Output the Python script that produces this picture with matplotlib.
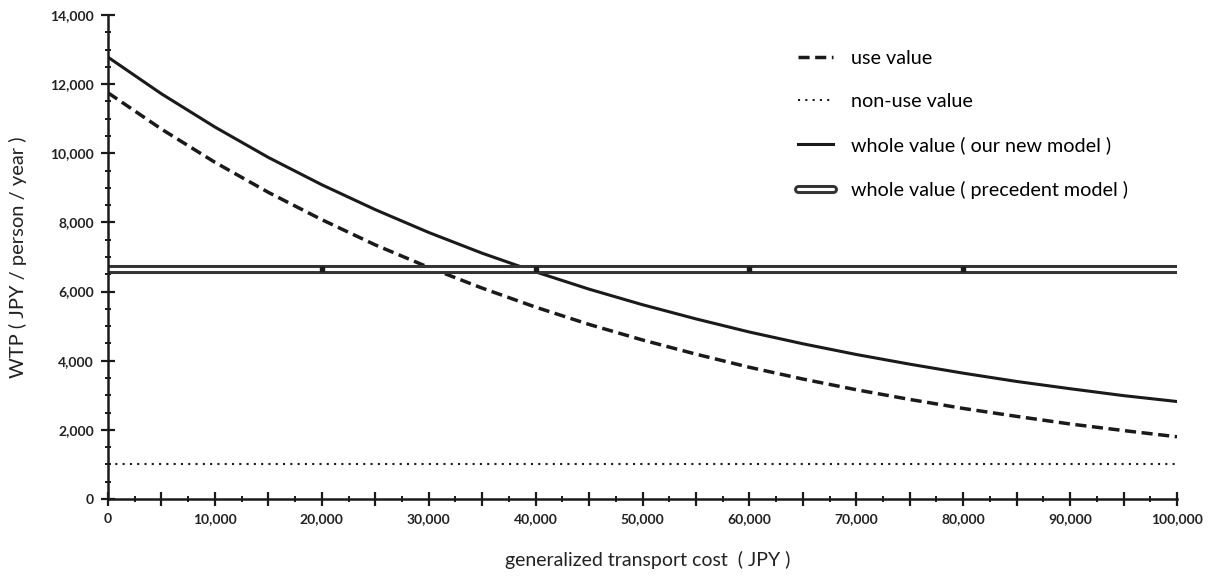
import matplotlib
matplotlib.use('Agg')
import matplotlib.pyplot as plt
import matplotlib.patheffects as pe
from matplotlib.ticker import MultipleLocator, FuncFormatter
import numpy as np

plt.rcParams['font.family'] = ['Lato', 'DejaVu Sans']
#
# Values:
#
cost = [0, 5000, 10000, 15000, 20000, 25000, 30000, 35000, 40000, 45000, 50000,
        55000, 60000, 65000, 70000, 75000, 80000, 85000, 90000, 95000, 100000]
use_value = [11750, 10700, 9740, 8870, 8080, 7350, 6700, 6100, 5550, 5050, 4600,
             4190, 3810, 3470, 3160, 2880, 2620, 2390, 2170, 1980, 1800]
nonuse_value = [1000] * len(cost)
whole_new = [12780, 11720, 10760, 9880, 9090, 8370, 7710, 7110, 6570, 6070, 5620,
             5210, 4830, 4490, 4180, 3900, 3640, 3400, 3190, 2990, 2820]
precedent_cost = [0, 20000, 40000, 60000, 80000, 100000]
precedent_value = [6650] * len(precedent_cost)

ink = '#1a1a1a'

fig = plt.figure(figsize=(12.12, 5.83), dpi=100)
ax = fig.add_axes([108/1212, 1-499/583, (1177-108)/1212, (499-15)/583])

ax.plot(cost, use_value, color=ink, linestyle=(0, (3.2, 1.6)), linewidth=2.5,
        label='use value')
ax.plot(cost, nonuse_value, color=ink, linestyle=(0, (1, 2.5)), linewidth=1.5,
        label='non-use value')
ax.plot(cost, whole_new, color=ink, linestyle='-', linewidth=2.2,
        label='whole value ( our new model )')
ax.plot(precedent_cost, precedent_value, color='white', linewidth=2.2,
        solid_capstyle='round',
        path_effects=[pe.Stroke(linewidth=6.5, foreground='#333333'), pe.Normal()],
        label='whole value ( precedent model )')
# small point marks on the precedent line
ax.plot(precedent_cost[1:-1], precedent_value[1:-1], linestyle='none', marker='s',
        markersize=3, color=ink)

ax.set_xlim(0, 100000)
ax.set_ylim(0, 14000)
ax.spines['top'].set_visible(False)
ax.spines['right'].set_visible(False)
for s in ['left', 'bottom']:
    ax.spines[s].set_linewidth(1.8)
    ax.spines[s].set_color(ink)

ax.xaxis.set_major_locator(MultipleLocator(5000))
ax.xaxis.set_minor_locator(MultipleLocator(2500))
ax.xaxis.set_major_formatter(FuncFormatter(lambda v, p: f'{int(v):,}' if v % 10000 == 0 else ''))
ax.yaxis.set_major_locator(MultipleLocator(2000))
ax.yaxis.set_minor_locator(MultipleLocator(500))
ax.yaxis.set_major_formatter(FuncFormatter(lambda v, p: f'{int(v):,}'))

ax.tick_params(which='major', direction='inout', length=10, width=1.6, color=ink,
               labelsize=10, pad=5)
ax.tick_params(which='minor', direction='inout', length=5, width=1.4, color=ink)
for lab in ax.get_xticklabels() + ax.get_yticklabels():
    lab.set_fontweight('bold')
    lab.set_color('#222222')

ax.set_xlabel('generalized transport cost  ( JPY )', fontsize=14, color='#222222')
ax.set_ylabel('WTP ( JPY / person / year )', fontsize=14.5, color='#222222')
ax.xaxis.set_label_coords(0.505, -0.107)
ax.yaxis.set_label_coords(-0.076, 0.5)

ax.legend(loc='upper left', bbox_to_anchor=(788/1212, 1-40/583),
          bbox_transform=fig.transFigure, frameon=False, fontsize=14.2,
          handlelength=1.8, handletextpad=0.9, labelspacing=1.33, borderpad=0)

fig.savefig('out.png', dpi=100)
